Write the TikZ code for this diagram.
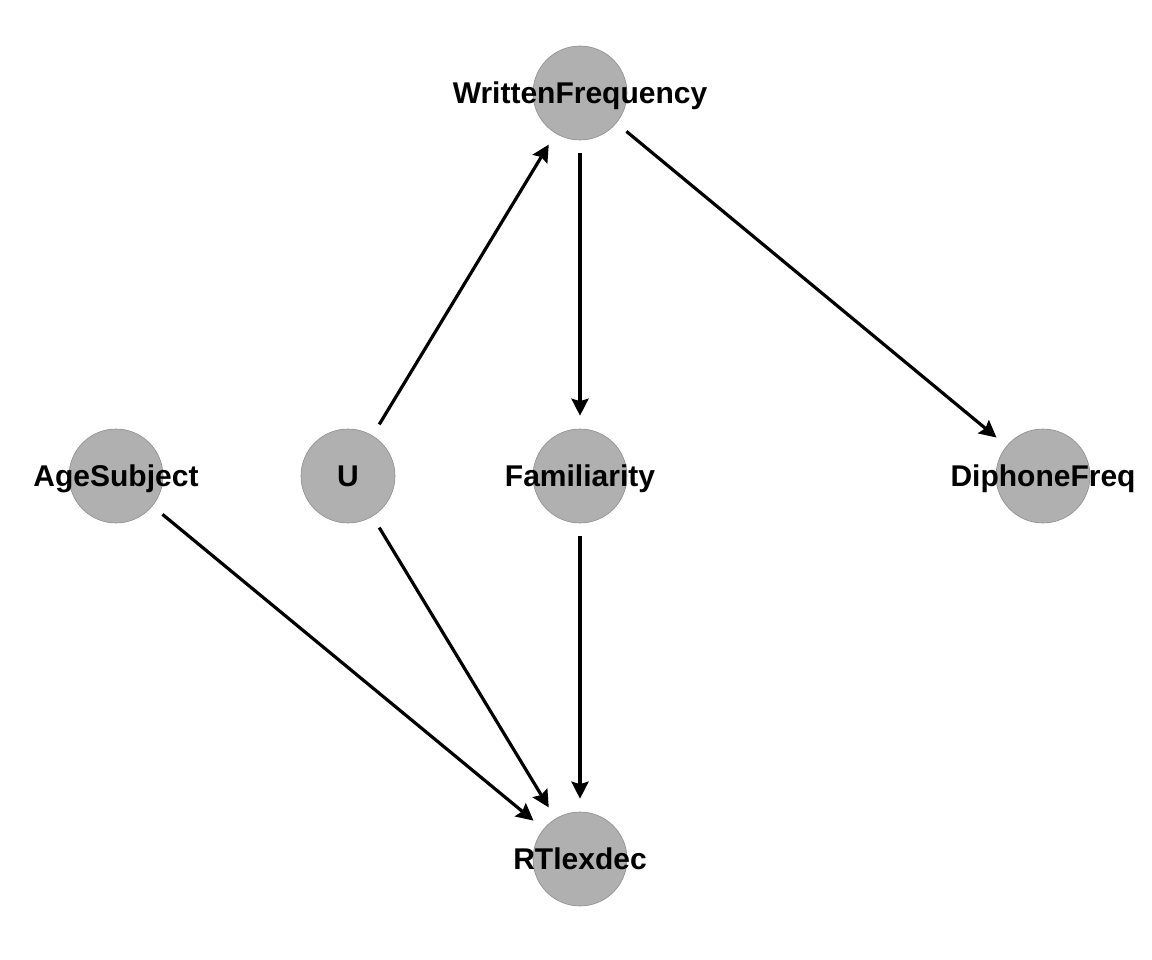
\documentclass[tikz,border=0pt]{standalone}
\usepackage{fontspec}
\setmainfont{Liberation Sans}
\usetikzlibrary{arrows.meta}
\definecolor{nodegray}{HTML}{B0B0B0}
\tikzset{
  dagnode/.style={circle,fill=nodegray,draw=nodegray!80!black,line width=0.6pt,minimum size=94pt,inner sep=0pt},
  daglabel/.style={font=\fontsize{30}{36}\selectfont\bfseries,text=black,inner sep=0pt,text height=21.5pt,text depth=0pt},
  dagedge/.style={line width=3.2pt,-{Stealth[length=17pt,width=17pt,inset=2.5pt]},shorten <=13pt,shorten >=13pt}
}
\begin{document}
\begin{tikzpicture}[x=1pt,y=-1pt]
            \useasboundingbox (0,0) rectangle (1152,960);
            \node[dagnode,label={[daglabel]center:WrittenFrequency}] (written) at (580,93) {};
            \node[dagnode,label={[daglabel]center:AgeSubject}] (age) at (116,476) {};
            \node[dagnode,label={[daglabel]center:U}] (u) at (348,476) {};
            \node[dagnode,label={[daglabel]center:Familiarity}] (famil) at (580,476) {};
            \node[dagnode,label={[daglabel]center:DiphoneFreq}] (diphone) at (1043,476) {};
            \node[dagnode,label={[daglabel]center:RTlexdec}] (rt) at (580,859) {};
            \draw [dagedge] (u) -- (written);
            \draw [dagedge] (written) -- (famil);
            \draw [dagedge] (written) -- (diphone);
            \draw [dagedge] (age) -- (rt);
            \draw [dagedge] (u) -- (rt);
            \draw [dagedge] (famil) -- (rt);
        \end{tikzpicture}
\end{document}
